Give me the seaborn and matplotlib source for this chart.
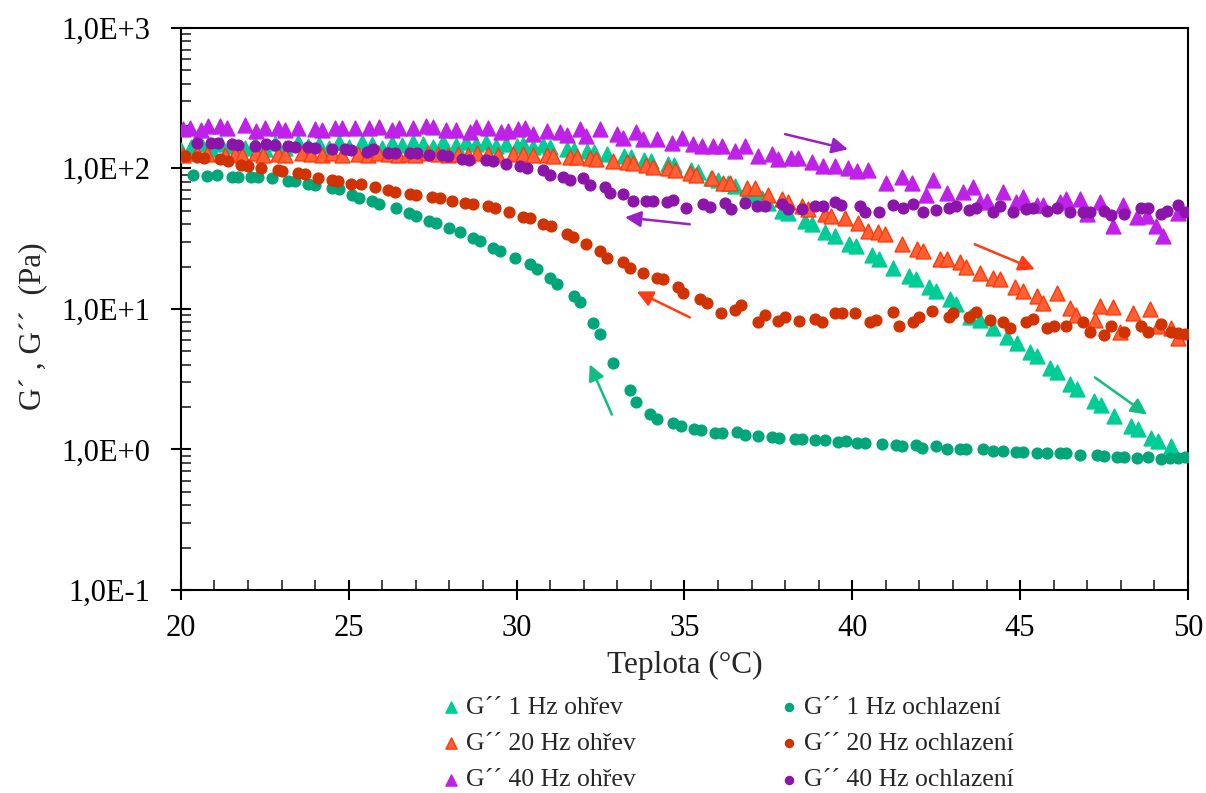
import numpy as np
import matplotlib
matplotlib.use("Agg")
import matplotlib.pyplot as plt
import matplotlib.ticker as mticker
import seaborn as sns

# ---------------- data ----------------
heat1_T = [20.0, 20.3, 20.6, 20.9, 21.2, 21.5, 21.9, 22.2, 22.5, 22.8, 23.1, 23.5, 23.8, 24.1, 24.4, 24.7,
           25.0, 25.4, 25.7, 26.0, 26.3, 26.6, 26.9, 27.2, 27.5, 27.8, 28.2, 28.5, 28.8, 29.1, 29.4, 29.7,
           30.0, 30.2, 30.5, 30.8, 31.0, 31.5, 31.7, 32.1, 32.3, 32.7, 33.2, 33.4, 33.8, 34.0, 34.5, 34.7,
           35.2, 35.4, 35.8, 36.0, 36.3, 36.5, 36.9, 37.1, 37.3, 37.5, 37.9, 38.1, 38.6, 38.8, 39.2, 39.5,
           39.9, 40.1, 40.6, 40.8, 41.2, 41.7, 41.9, 42.3, 42.5, 42.9, 43.1, 43.5, 43.8, 44.2, 44.6, 44.9,
           45.3, 45.5, 45.9, 46.1, 46.5, 46.7, 47.2, 47.4, 47.8, 48.3, 48.5, 48.9, 49.1, 49.5]
heat1_G = [135, 142, 148, 138, 150, 143, 140, 150, 138, 152, 140, 155, 145, 150, 140, 153,
           142, 155, 148, 140, 152, 146, 155, 150, 142, 153, 146, 155, 148, 153, 145, 150,
           144, 148, 142, 146, 142, 137, 136, 132, 131, 126, 122, 120, 114, 112, 108, 105,
           97, 94, 86, 83, 78, 75, 68, 65, 61, 57, 50, 48, 42, 40, 35, 33,
           29, 28, 24, 22.5, 19.6, 17.1, 16.2, 14.2, 13.4, 11.8, 10.9, 8.8, 8.3, 7.3, 6.3, 5.7,
           4.9, 4.6, 3.8, 3.55, 2.9, 2.7, 2.2, 2.06, 1.73, 1.47, 1.39, 1.21, 1.15, 1.06]

heat20_T = [20.07, 20.47, 20.77, 21.31, 21.61, 21.81, 22.25, 22.45, 22.9, 23.1, 23.6, 23.89, 24.19, 24.49,
            24.79, 25.28, 25.58, 25.88, 26.18, 26.47, 26.77, 26.97, 27.37, 27.67, 27.96, 28.26, 28.56, 28.81,
            29.15, 29.45, 29.9, 30.2, 30.5, 30.9, 31.09, 31.59, 31.79, 32.18, 32.38, 32.88, 33.28, 33.47,
            33.87, 34.07, 34.52, 34.72, 35.16, 35.36, 35.81, 36.15, 36.35, 36.85, 37.1, 37.5, 37.9, 38.1,
            38.5, 38.69, 39.18, 39.38, 39.78, 40.18, 40.47, 40.77, 40.97, 41.47, 41.92, 42.1, 42.61, 42.81,
            43.2, 43.4, 43.8, 44.2, 44.4, 44.84, 45.09, 45.49, 45.69, 46.09, 46.48, 46.68, 47.23, 47.38,
            47.77, 47.97, 48.37, 48.87, 49.11, 49.51, 49.71]
heat20_G = [124, 128, 126, 125, 127, 124, 128, 125, 127, 124, 129, 126, 125, 128,
            124, 127, 125, 128, 126, 124, 127, 125, 128, 126, 124, 127, 125, 128,
            126, 124, 126, 126, 124, 124, 123, 120, 120, 118, 117, 112, 110, 109,
            105, 103, 100, 98, 93, 90, 86, 79, 78, 73, 72, 65, 60, 58,
            54, 51, 47, 46, 44.6, 41, 36, 35, 34, 29, 26.5, 26, 22.7, 22.5,
            21.4, 20, 17.9, 16.6, 16.2, 14.3, 13.5, 12.3, 11, 12.9, 10.2, 9.1, 8.4, 10.5,
            10.3, 6.8, 9.4, 9.9, 7.5, 7.3, 6.2]

heat40_T = [20.07, 20.27, 20.6, 20.8, 21.16, 21.36, 21.9, 22.25, 22.5, 22.9, 23.1, 23.5, 24.0, 24.2,
            24.6, 24.8, 25.2, 25.6, 25.9, 26.3, 26.5, 26.9, 27.3, 27.5, 27.9, 28.2, 28.6, 28.8,
            29.15, 29.55, 29.75, 30.05, 30.25, 30.5, 30.9, 31.29, 31.49, 31.89, 32.08, 32.48, 32.98, 33.18,
            33.57, 33.77, 34.17, 34.62, 34.92, 35.26, 35.51, 35.86, 36.11, 36.5, 36.8, 37.2, 37.6, 37.79,
            38.19, 38.39, 38.79, 39.13, 39.48, 39.88, 40.13, 40.47, 41.02, 41.47, 41.77, 42.21, 42.41, 42.81,
            43.3, 43.6, 43.8, 44.0, 44.5, 44.89, 45.09, 45.49, 45.69, 46.18, 46.38, 46.78, 46.98, 47.38,
            47.77, 48.07, 48.47, 48.77, 49.06, 49.26, 49.71]
heat40_G = [190, 195, 186, 200, 200, 193, 202, 184, 195, 195, 186, 195, 190, 186,
            193, 195, 195, 195, 198, 186, 193, 193, 200, 198, 186, 186, 182, 198,
            195, 180, 184, 190, 195, 175, 184, 180, 173, 190, 170, 190, 175, 165,
            180, 161, 161, 152, 165, 148, 144, 144, 144, 133, 144, 122, 126, 116,
            119, 119, 110, 104, 104, 101, 95, 98, 78, 87, 78, 65, 83, 67,
            68, 74, 58, 59, 68, 58, 63, 55, 55, 58, 60, 60, 47, 58,
            38.6, 55, 45, 46, 38.6, 32.8, 48]

cool1_T = [20.37, 20.78, 21.09, 21.51, 21.71, 22.09, 22.3, 22.7, 23.2, 23.4, 23.8, 24.0, 24.5, 24.7,
           25.1, 25.3, 25.7, 25.9, 26.4, 26.8, 27.0, 27.4, 27.6, 28.0, 28.3, 28.7, 28.9, 29.3, 29.5,
           29.95, 30.4, 30.6, 31.0, 31.2, 31.7, 31.9, 32.28, 32.48, 32.88, 33.37, 33.57, 33.97, 34.19,
           34.67, 34.89, 35.29, 35.49, 35.91, 36.11, 36.58, 36.8, 37.2, 37.6, 37.81, 38.29, 38.51, 38.89,
           39.18, 39.58, 39.81, 40.15, 40.38, 40.89, 41.29, 41.49, 41.89, 42.08, 42.49, 42.81, 43.2, 43.4,
           43.9, 44.2, 44.5, 44.89, 45.09, 45.49, 45.79, 46.18, 46.38, 46.78, 47.28, 47.5, 47.9, 48.1,
           48.49, 48.8, 49.19, 49.46, 49.71, 49.91]
cool1_G = [89.6, 88, 90, 87, 87, 87, 87, 86, 81, 81, 77, 76, 73, 71,
           65, 61, 58.5, 56, 52.5, 48, 46, 42, 41, 37.4, 35, 31.7, 30.4, 27.2, 26,
           23.1, 20.7, 19.1, 16.7, 15.1, 12.3, 11.2, 7.97, 6.6, 4.14, 2.64, 2.19, 1.80, 1.65,
           1.53, 1.47, 1.39, 1.37, 1.31, 1.30, 1.33, 1.26, 1.24, 1.23, 1.21, 1.19, 1.19, 1.16,
           1.16, 1.13, 1.14, 1.12, 1.12, 1.10, 1.07, 1.05, 1.07, 1.03, 1.05, 1.0, 1.01, 1.0,
           1.0, 0.97, 0.97, 0.957, 0.957, 0.947, 0.937, 0.937, 0.937, 0.91, 0.906, 0.896, 0.887, 0.88,
           0.863, 0.877, 0.86, 0.873, 0.863, 0.887]

cool20_T = [20.12, 20.47, 20.7, 21.16, 21.39, 21.79, 21.99, 22.38, 22.9, 23.0, 23.49, 23.69, 24.09, 24.49,
            24.69, 25.08, 25.38, 25.78, 26.18, 26.39, 26.82, 26.99, 27.49, 27.72, 28.08, 28.46, 28.69, 29.15,
            29.37, 29.78, 30.2, 30.4, 30.79, 31.04, 31.49, 31.69, 32.08, 32.48, 32.68, 33.18, 33.37, 33.77,
            34.17, 34.37, 34.81, 34.96, 35.46, 35.68, 36.08, 36.5, 36.7, 37.2, 37.4, 37.8, 38.0, 38.4,
            38.9, 39.1, 39.5, 39.7, 40.08, 40.52, 40.7, 41.2, 41.4, 41.8, 42.0, 42.39, 42.89, 43.0,
            43.48, 43.68, 44.1, 44.5, 44.69, 45.17, 45.39, 45.79, 46.0, 46.38, 46.88, 47.08, 47.5, 47.72,
            48.09, 48.59, 48.8, 49.19, 49.51, 49.71, 49.91]
cool20_G = [122, 120, 119, 116, 112, 106, 104, 101, 98, 96, 93, 90.6, 86, 82,
            81, 77, 77, 73.6, 70, 68, 66, 65, 62.5, 61, 58.5, 57, 55.4, 54,
            52.5, 49, 45.3, 44, 40, 38.6, 34.3, 32.4, 28.8, 25.8, 23, 21.7, 19.6, 18.1,
            16.5, 16.2, 14.4, 13.0, 11.8, 11.1, 9.3, 9.8, 10.6, 8.0, 9.1, 8.2, 8.8, 8.2,
            8.5, 8.1, 9.4, 9.4, 9.4, 8.1, 8.3, 9.5, 7.6, 8.0, 8.8, 9.6, 8.8, 9.4,
            8.7, 9.5, 8.4, 8.0, 7.3, 8.0, 8.5, 7.3, 7.5, 7.5, 8.0, 6.8, 6.5, 7.5,
            6.8, 7.5, 6.9, 7.8, 6.9, 6.7, 6.6]

cool40_T = [20.47, 20.91, 21.11, 21.51, 21.71, 22.2, 22.55, 22.8, 23.2, 23.4, 23.79, 23.99, 24.49, 24.89,
            25.08, 25.53, 25.73, 26.18, 26.37, 26.82, 27.02, 27.39, 27.77, 27.96, 28.38, 28.58, 29.1, 29.3,
            29.7, 30.1, 30.3, 30.79, 30.99, 31.39, 31.59, 31.98, 32.18, 32.63, 32.78, 33.18, 33.47, 33.87,
            34.07, 34.47, 34.67, 35.06, 35.56, 35.76, 36.2, 36.4, 36.8, 37.15, 37.4, 37.9, 38.1, 38.5,
            38.9, 39.13, 39.48, 39.68, 40.23, 40.38, 40.8, 41.2, 41.5, 41.8, 42.1, 42.49, 42.89, 43.09,
            43.48, 43.7, 44.2, 44.4, 44.8, 45.19, 45.39, 45.79, 46.09, 46.48, 46.88, 47.08, 47.49, 47.72,
            48.1, 48.6, 48.8, 49.19, 49.39, 49.71, 49.91]
cool40_G = [152, 152, 152, 150, 147, 144, 148, 147, 143, 142, 142, 140, 138, 136.5,
            135, 131, 136.5, 128, 128, 128, 128, 124, 124, 122, 116, 114, 114, 112,
            107, 104, 101, 97, 90, 87, 83, 86, 76, 74, 67, 66, 59, 58.5,
            58.5, 57.4, 59.6, 52, 56, 53, 57, 51, 57, 54, 53.5, 56, 51, 51,
            54, 54, 57.5, 54.5, 54, 49, 49, 54.6, 52, 55.5, 48.7, 50.6, 51.8, 54,
            50.5, 52, 49, 54, 48.5, 51, 52.5, 50, 52.5, 49, 49, 48.5, 50, 46.5,
            47, 52, 52.5, 47.5, 50, 54.6, 49]

labels = ["G´´ 1 Hz ohřev", "G´´ 20 Hz ohřev", "G´´ 40 Hz ohřev",
          "G´´ 1 Hz ochlazení", "G´´ 20 Hz ochlazení", "G´´ 40 Hz ochlazení"]

# direction arrows: (T_start, G_start, T_end, G_end)
arrows = [
    (38.0, 175, 39.87, 136.5),
    (35.16, 40, 33.23, 44.8),
    (43.65, 28.8, 45.44, 19.1),
    (35.16, 8.7, 33.58, 13.3),
    (32.84, 1.77, 32.18, 4.03),
    (47.23, 3.25, 48.78, 1.77),
]

# ---------------- style ----------------
sns.set_style("ticks")
plt.rcParams['font.family'] = ['Liberation Serif', 'DejaVu Serif']

fig = plt.figure(figsize=(12.06, 7.93), dpi=100)
ax = fig.add_axes([0.150, 0.256, 0.835, 0.709])

series = [
    (heat1_T, heat1_G, '^', '#00CC96', '#00CC96', 115),
    (heat20_T, heat20_G, '^', '#FF6035', '#FF3A0A', 115),
    (heat40_T, heat40_G, '^', '#C021E8', '#C021E8', 115),
    (cool1_T, cool1_G, 'o', '#00A67A', '#00A67A', 60),
    (cool20_T, cool20_G, 'o', '#D03200', '#D03200', 60),
    (cool40_T, cool40_G, 'o', '#8C14AA', '#8C14AA', 60),
]
for (T, G, mk, fc, ec, s), lab in zip(series, labels):
    assert len(T) == len(G), lab
    sns.scatterplot(x=T, y=G, marker=mk, color=fc, edgecolor=ec, linewidth=1.0,
                    s=s, ax=ax, label=lab, zorder=3)

arrow_colors = ['#9B1FC9', '#9B1FC9', '#FF3C14', '#FF3C14', '#10BE82', '#10BE82']
for (x0, y0, x1, y1), c in zip(arrows, arrow_colors):
    ax.annotate("", xy=(x1, y1), xytext=(x0, y0),
                arrowprops=dict(arrowstyle='-|>', color=c, lw=1.8, mutation_scale=24,
                                shrinkA=0, shrinkB=0), zorder=4)

ax.set_yscale('log')
ax.set_xlim(20, 50)
ax.set_ylim(0.1, 1000)
ax.set_xticks([20, 25, 30, 35, 40, 45, 50])
ax.xaxis.set_minor_locator(mticker.MultipleLocator(1))
ax.yaxis.set_major_locator(mticker.LogLocator(base=10, numticks=10))
ax.yaxis.set_minor_locator(mticker.LogLocator(base=10, subs=np.arange(2, 10), numticks=10))
ax.yaxis.set_minor_formatter(mticker.NullFormatter())
ax.yaxis.set_major_formatter(mticker.FuncFormatter(
    lambda v, p: "1,0E{:+d}".format(int(round(np.log10(v))))))

ax.tick_params(which='major', direction='inout', length=14, width=1.5, labelsize=22,
               colors='black')
ax.tick_params(which='minor', direction='in', length=7, width=1.2)
ax.tick_params(axis='y', which='major', pad=15)
ax.tick_params(axis='x', which='major', pad=10)
for sp in ax.spines.values():
    sp.set_linewidth(1.5)
    sp.set_color('black')

ax.set_xlabel("Teplota (°C)", fontsize=22.5, labelpad=6)
ax.set_ylabel("G´ , G´´  (Pa)", fontsize=22.5)
ax.yaxis.set_label_coords(-0.133, 0.47)

h, l = ax.get_legend_handles_labels()
leg = ax.legend(h, l, ncol=2, loc='upper center', bbox_to_anchor=(0.604, 0.139),
                bbox_transform=fig.transFigure, frameon=False, fontsize=18.5,
                handlelength=0.6, handletextpad=0.3, columnspacing=5.65,
                labelspacing=0.52, markerscale=0.75, borderpad=0)

fig.savefig("out.png", dpi=100, facecolor='white')
